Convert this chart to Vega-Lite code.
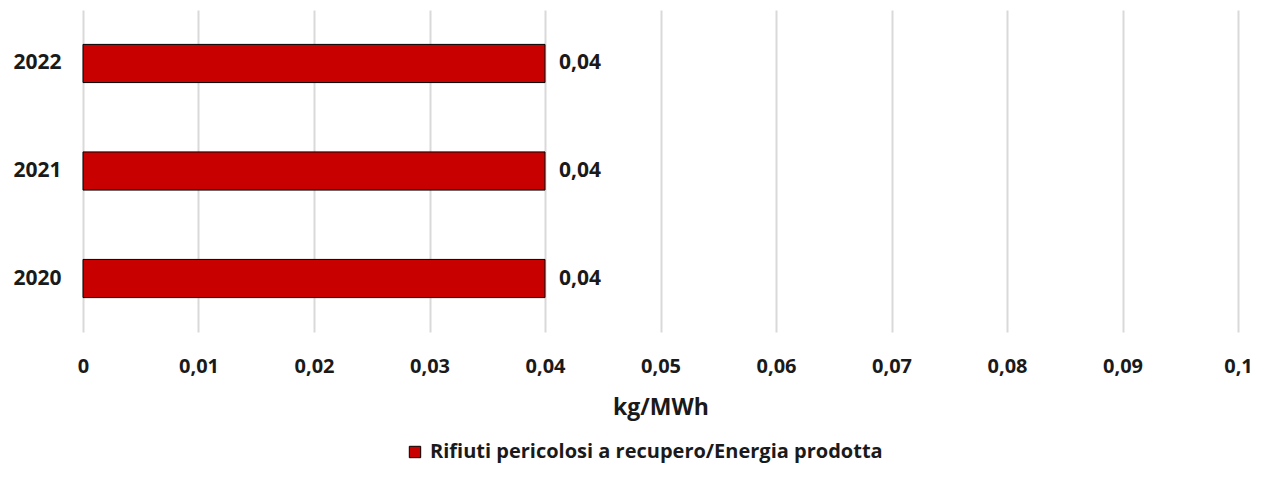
{
  "$schema": "https://vega.github.io/schema/vega-lite/v6.json",
  "width": 1155,
  "height": 322,
  "autosize": {"type": "none"},
  "padding": {"left": 83, "top": 10, "right": 25, "bottom": 158},
  "background": "white",
  "data": {"values": [
    {"anno": "2020", "valore": 0.04, "serie": "Rifiuti pericolosi a recupero/Energia prodotta"},
    {"anno": "2021", "valore": 0.04, "serie": "Rifiuti pericolosi a recupero/Energia prodotta"},
    {"anno": "2022", "valore": 0.04, "serie": "Rifiuti pericolosi a recupero/Energia prodotta"}
  ]},
  "encoding": {
    "y": {"field": "anno", "type": "nominal", "sort": "descending",
      "scale": {"paddingInner": 0.645, "paddingOuter": 0.32},
      "axis": {"title": null, "domain": false, "ticks": false, "grid": false, "labelPadding": 22,
        "labelFont": "Open Sans", "labelFontWeight": "bold", "labelFontSize": 21, "labelColor": "#1a1a1a"}},
    "x": {"field": "valore", "type": "quantitative",
      "scale": {"domain": [0, 0.1], "nice": false},
      "axis": {"title": "kg/MWh", "values": [0,0.01,0.02,0.03,0.04,0.05,0.06,0.07,0.08,0.09,0.1],
        "format": "~g", "labelOverlap": false, "labelFlush": false, "labelBound": false,
        "domain": false, "ticks": false, "grid": true, "gridColor": "#d9d9d9", "gridWidth": 2,
        "labelPadding": 24, "labelFont": "Open Sans", "labelFontWeight": "bold", "labelFontSize": 20, "labelColor": "#1a1a1a",
        "titleFont": "Open Sans", "titleFontWeight": "bold", "titleFontSize": 23, "titleColor": "#1a1a1a", "titlePadding": 20}}
  },
  "layer": [
    {"mark": {"type": "bar", "stroke": "black", "strokeWidth": 1},
     "encoding": {"color": {"field": "serie", "type": "nominal",
       "scale": {"range": ["#C80000"]},
       "legend": {"title": null, "orient": "none", "legendX": 322, "legendY": 432, "direction": "horizontal",
         "symbolType": "square", "symbolSize": 130, "symbolStrokeColor": "black", "symbolStrokeWidth": 1, "symbolOpacity": 1,
         "labelLimit": 0,
         "labelFont": "Open Sans", "labelFontWeight": "bold", "labelFontSize": 20, "labelColor": "#1a1a1a", "labelOffset": 5}}}},
    {"mark": {"type": "text", "align": "left", "baseline": "middle", "dx": 14, "font": "Open Sans", "fontWeight": "bold", "fontSize": 21, "color": "#1a1a1a"},
     "encoding": {"text": {"field": "valore", "type": "quantitative", "format": "~g"}}}
  ],
  "config": {
    "view": {"stroke": null},
    "locale": {"number": {"decimal": ",", "thousands": ".", "grouping": [3], "currency": ["", " €"]}}
  }
}
